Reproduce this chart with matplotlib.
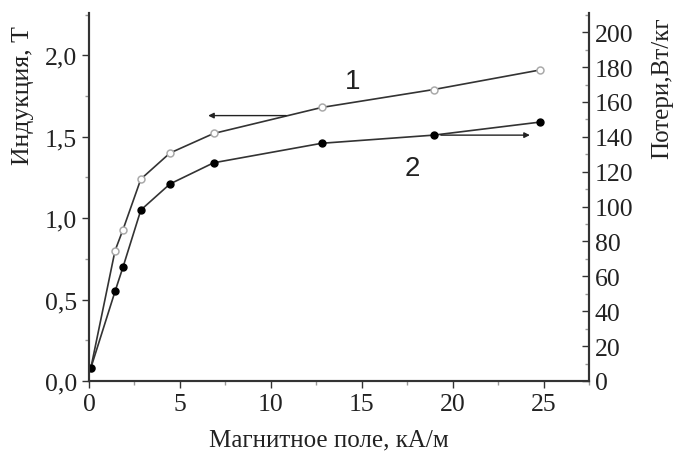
import matplotlib.pyplot as plt
from matplotlib.ticker import MultipleLocator, FuncFormatter

plt.rcParams['font.family'] = ['Liberation Serif', 'DejaVu Serif']

# поле, кА/м
field = [0.1, 1.43, 1.87, 2.85, 4.45, 6.85, 12.8, 18.96, 24.8]
# кривая 1 (открытые точки) и кривая 2 (закрашенные точки)
curve1 = [0.08, 0.80, 0.93, 1.24, 1.40, 1.52, 1.68, 1.79, 1.91]
curve2 = [0.08, 0.55, 0.70, 1.05, 1.21, 1.34, 1.46, 1.51, 1.59]

x_ticks = [0, 5, 10, 15, 20, 25]
left_ticks = [0.0, 0.5, 1.0, 1.5, 2.0]
right_ticks = [0, 20, 40, 60, 80, 100, 120, 140, 160, 180, 200]

fig = plt.figure(figsize=(6.76, 4.52), dpi=100)
ax = fig.add_axes([0.1317, 0.1549, 0.7396, 0.8141])
ax2 = ax.twinx()

line_c = '#333333'
ax.plot(field, curve1, color=line_c, lw=1.2, marker='o', ms=5,
        mfc='white', mec='#aaaaaa', mew=1.1, zorder=3)
ax.plot(field, curve2, color=line_c, lw=1.2, marker='o', ms=5,
        mfc='black', mec='black', zorder=3)

ax.set_xlim(0, 27.5)
ax.set_ylim(0, 2.26)
ax2.set_ylim(0, 211)

ax.set_xticks(x_ticks)
ax.xaxis.set_minor_locator(MultipleLocator(2.5))
ax.set_yticks(left_ticks)
ax.yaxis.set_minor_locator(MultipleLocator(0.25))
ax.yaxis.set_major_formatter(FuncFormatter(lambda v, p: f'{v:.1f}'.replace('.', ',')))
ax2.set_yticks(right_ticks)
ax2.yaxis.set_minor_locator(MultipleLocator(10))

for a in (ax, ax2):
    a.spines['top'].set_visible(False)
    for s in a.spines.values():
        s.set_color('#333333')
        s.set_linewidth(1.5)

ax.tick_params(axis='both', which='major', direction='out', length=5, width=1,
               labelsize=18.5, colors='#333333', labelcolor='#222222')
ax.tick_params(axis='both', which='minor', direction='out', length=3, width=1,
               colors='#999999')
ax2.tick_params(axis='y', which='major', direction='in', length=5, width=1,
                labelsize=18.5, colors='#333333', labelcolor='#222222', pad=4)
ax2.tick_params(axis='y', which='minor', direction='in', length=3, width=1,
                colors='#999999')

# подписи осей
fig.text(329 / 676, 1 - 440 / 452, 'Магнитное поле, кА/м', fontsize=18,
         color='#222222', ha='center', va='center')
fig.text(23 / 676, 1 - 96 / 452, 'Индукция, Т', fontsize=18.5, rotation=90,
         color='#222222', ha='center', va='center')
fig.text(662 / 676, 1 - 88 / 452, 'Потери,Вт/кг', fontsize=18, rotation=90,
         color='#222222', ha='center', va='center')

# стрелки к осям
arrow = dict(arrowstyle='-|>', color='#222222', lw=1.0, mutation_scale=8)
ax.annotate('', xy=(6.4, 1.63), xytext=(11.0, 1.63), arrowprops=arrow)
ax.annotate('', xy=(24.4, 1.51), xytext=(19.2, 1.51), arrowprops=arrow)

ax.text(14.5, 1.84, '1', fontsize=20, family='Liberation Sans', color='#222222',
        ha='center', va='center')
ax.text(17.8, 1.31, '2', fontsize=20, family='Liberation Sans', color='#222222',
        ha='center', va='center')

fig.savefig('out.png', dpi=100)
